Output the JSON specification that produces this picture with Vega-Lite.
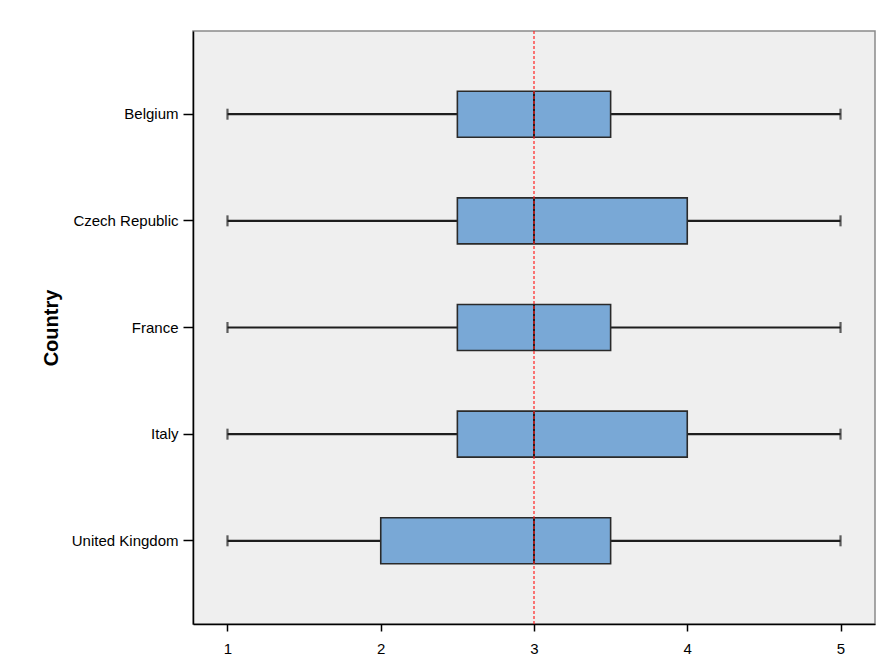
{
  "$schema": "https://vega.github.io/schema/vega-lite/v6.json",
  "width": 682,
  "height": 593,
  "autosize": {"type": "none"},
  "padding": {"left": 193, "top": 31, "right": 12, "bottom": 37},
  "background": "white",
  "config": {
    "font": "Liberation Sans",
    "view": {"fill": "#efefef", "stroke": "#8a8a8a", "strokeWidth": 1.5},
    "axis": {
      "domainColor": "#000000",
      "domainWidth": 1.5,
      "tickColor": "#000000",
      "tickWidth": 1.5,
      "grid": false,
      "labelColor": "#000000",
      "labelFont": "Liberation Sans",
      "labelFontSize": 15
    }
  },
  "datasets": {
    "boxes": [
      {"Country": "Belgium", "min": 1, "q1": 2.5, "median": 3, "q3": 3.5, "max": 5},
      {"Country": "Czech Republic", "min": 1, "q1": 2.5, "median": 3, "q3": 4, "max": 5},
      {"Country": "France", "min": 1, "q1": 2.5, "median": 3, "q3": 3.5, "max": 5},
      {"Country": "Italy", "min": 1, "q1": 2.5, "median": 3, "q3": 4, "max": 5},
      {"Country": "United Kingdom", "min": 1, "q1": 2, "median": 3, "q3": 3.5, "max": 5}
    ],
    "reference": [{"ref": 3}]
  },
  "encoding": {
    "y": {
      "field": "Country",
      "type": "nominal",
      "sort": ["Belgium", "Czech Republic", "France", "Italy", "United Kingdom"],
      "scale": {"type": "band", "paddingInner": 0, "paddingOuter": 0.28},
      "axis": {
        "title": "Country",
        "titleFont": "Liberation Sans",
        "titleFontSize": 20,
        "titleFontWeight": "bold",
        "titleColor": "#000000",
        "titlePadding": 10,
        "tickSize": 10,
        "labelPadding": 5
      }
    }
  },
  "layer": [
    {
      "data": {"name": "boxes"},
      "mark": {"type": "rule", "color": "#1e1e1e", "strokeWidth": 2.2},
      "encoding": {
        "x": {
          "field": "min",
          "type": "quantitative",
          "scale": {"domain": [0.775, 5.225], "nice": false, "zero": false},
          "axis": {"title": null, "values": [1, 2, 3, 4, 5], "tickSize": 7, "labelPadding": 10, "format": "d"}
        },
        "x2": {"field": "max"}
      }
    },
    {
      "data": {"name": "boxes"},
      "mark": {"type": "tick", "orient": "vertical", "color": "#1e1e1e", "size": 11, "thickness": 2.2},
      "encoding": {"x": {"field": "min", "type": "quantitative"}}
    },
    {
      "data": {"name": "boxes"},
      "mark": {"type": "tick", "orient": "vertical", "color": "#1e1e1e", "size": 11, "thickness": 2.2},
      "encoding": {"x": {"field": "max", "type": "quantitative"}}
    },
    {
      "data": {"name": "boxes"},
      "mark": {"type": "bar", "height": 46, "fill": "#79a8d6", "stroke": "#2a2a2a", "strokeWidth": 1.6, "opacity": 1},
      "encoding": {
        "x": {"field": "q1", "type": "quantitative"},
        "x2": {"field": "q3"}
      }
    },
    {
      "data": {"name": "boxes"},
      "mark": {"type": "tick", "orient": "vertical", "color": "#1e1e1e", "size": 46, "thickness": 2, "opacity": 1},
      "encoding": {"x": {"field": "median", "type": "quantitative"}}
    },
    {
      "data": {"name": "reference"},
      "mark": {"type": "rule", "color": "#ff2020", "strokeWidth": 1.2, "strokeDash": [3, 2]},
      "encoding": {"x": {"field": "ref", "type": "quantitative"}, "y": null}
    }
  ]
}
